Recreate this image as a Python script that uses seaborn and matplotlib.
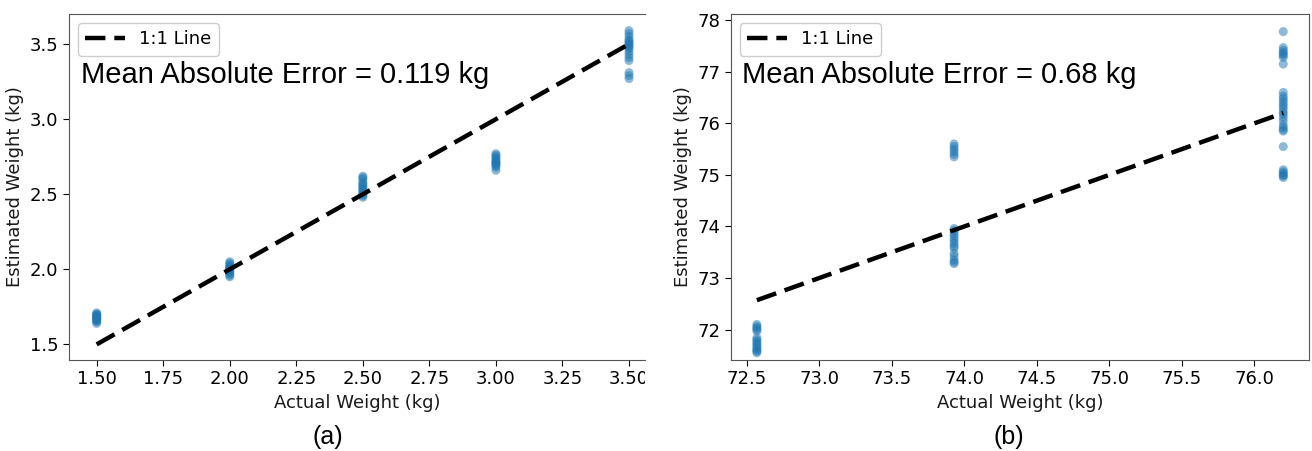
import numpy as np
import pandas as pd
import matplotlib
matplotlib.use("Agg")
import matplotlib.pyplot as plt
from matplotlib.transforms import Bbox, TransformedBbox
import seaborn as sns

# ---- data (a): small weights ----
actual_a = [1.5, 2.0, 2.5, 3.0, 3.5]
est_a = [
    [1.64, 1.65, 1.66, 1.66, 1.67, 1.67, 1.68, 1.68, 1.69, 1.69, 1.70, 1.70, 1.71],
    [1.95, 1.96, 1.97, 1.98, 1.99, 2.00, 2.00, 2.01, 2.01, 2.02, 2.03, 2.04, 2.05],
    [2.48, 2.49, 2.50, 2.51, 2.52, 2.53, 2.54, 2.55, 2.56, 2.57, 2.58, 2.60, 2.61, 2.62],
    [2.66, 2.68, 2.69, 2.70, 2.71, 2.71, 2.72, 2.73, 2.74, 2.75, 2.76, 2.77],
    [3.27, 3.29, 3.31, 3.39, 3.41, 3.43, 3.45, 3.47, 3.48, 3.49, 3.50, 3.51, 3.52,
     3.53, 3.55, 3.57, 3.59],
]
mae_a = "0.119"

# ---- data (b): adult weights ----
actual_b = [72.57, 73.93, 76.2]
est_b = [
    [71.55, 71.58, 71.60, 71.63, 71.66, 71.70, 71.73, 71.77, 71.80, 71.84,
     71.97, 72.00, 72.03, 72.06, 72.10],
    [73.28, 73.31, 73.35, 73.42, 73.48, 73.58, 73.62, 73.67, 73.72, 73.77, 73.82,
     73.87, 73.92, 73.96, 75.35, 75.40, 75.45, 75.50, 75.55, 75.60],
    [74.95, 74.98, 75.00, 75.03, 75.06, 75.10, 75.55, 75.85, 75.88, 75.92, 75.97,
     76.05, 76.12, 76.18, 76.22, 76.28, 76.33, 76.38, 76.43, 76.48, 76.53, 76.60,
     77.15, 77.28, 77.32, 77.35, 77.38, 77.42, 77.47, 77.78],
]
mae_b = "0.68"

xticks_a = [1.5, 1.75, 2.0, 2.25, 2.5, 2.75, 3.0, 3.25, 3.5]
xticks_b = [72.5, 73.0, 73.5, 74.0, 74.5, 75.0, 75.5, 76.0]


def to_frame(actual, est):
    rows = [(a, e) for a, vals in zip(actual, est) for e in vals]
    return pd.DataFrame(rows, columns=["actual", "estimated"])


sns.set_style("ticks")
plt.rcParams["font.family"] = ["DejaVu Sans"]
plt.rcParams["text.color"] = "black"
plt.rcParams["axes.labelcolor"] = "#1a1a1a"

fig = plt.figure(figsize=(13.12, 4.51), dpi=100)
ax_a = fig.add_axes([0.0526, 0.2018, 0.439, 0.767])
ax_b = fig.add_axes([0.557, 0.2018, 0.441, 0.767])


def draw_panel(ax, actual, est, mae):
    df = to_frame(actual, est)
    sns.scatterplot(data=df, x="actual", y="estimated", ax=ax, color="#1f77b4",
                    alpha=0.5, s=42, edgecolor="none", legend=False)
    ax.plot([actual[0], actual[-1]], [actual[0], actual[-1]], color="black",
            ls=(0, (4.6, 2.0)), lw=3.2, label="1:1 Line")
    ax.legend(loc="upper left", fontsize=13, framealpha=1, handlelength=2.2,
              borderaxespad=0.5)
    ax.text(0.02, 0.80, f"Mean Absolute Error = {mae} kg", transform=ax.transAxes,
            fontsize=21, family="Liberation Sans", va="baseline", color="black")
    ax.set_xlabel("Actual Weight (kg)", fontsize=13)
    ax.set_ylabel("Estimated Weight (kg)", fontsize=13)
    ax.tick_params(labelsize=13, colors="black", length=4)
    for sp in ax.spines.values():
        sp.set_color("#555555")


draw_panel(ax_a, actual_a, est_a, mae_a)
ax_a.set_xlim(1.396, 3.56)
ax_a.set_ylim(1.396, 3.70)
ax_a.set_xticks(xticks_a)
ax_a.set_xticklabels([f"{t:.2f}" for t in xticks_a])
ax_a.set_yticks([1.5, 2.0, 2.5, 3.0, 3.5])
ax_a.spines["right"].set_visible(False)

draw_panel(ax_b, actual_b, est_b, mae_b)
ax_b.set_xlim(72.39, 76.38)
ax_b.set_ylim(71.41, 78.12)
ax_b.set_xticks(xticks_b)
ax_b.set_yticks([72, 73, 74, 75, 76, 77, 78])

# panel (a) is cut at its right edge, so clip the last tick label
clip = TransformedBbox(Bbox([[-1, -1], [1, 2]]), ax_a.transAxes)
for lab in ax_a.get_xticklabels():
    lab.set_clip_box(clip)
    lab.set_clip_on(True)

fig.text(0.25, 0.031, "(a)", fontsize=18, family="Liberation Sans",
         ha="center", va="center", color="black")
fig.text(0.769, 0.031, "(b)", fontsize=18, family="Liberation Sans",
         ha="center", va="center", color="black")

fig.savefig("out.png", dpi=100)
